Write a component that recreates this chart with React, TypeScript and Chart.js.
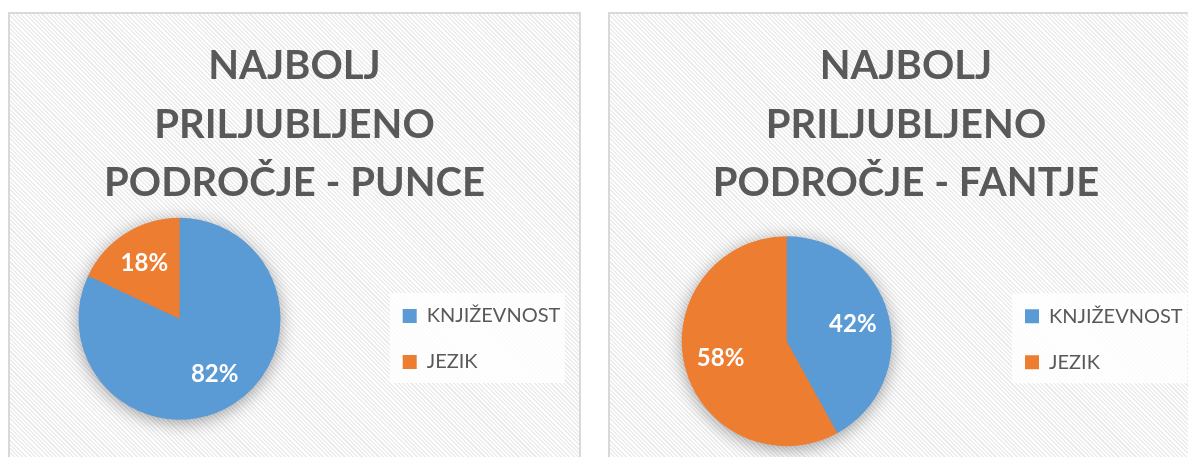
import React, { useEffect, useRef } from 'react';
import { Chart, registerables } from 'chart.js';

Chart.register(...registerables);

// ---- data ----
const categories = ['KNJIŽEVNOST', 'JEZIK'];
const punceValues = [82, 18];
const fantjeValues = [42, 58];
const punceTitle = ['NAJBOLJ', 'PRILJUBLJENO', 'PODROČJE - PUNCE'];
const fantjeTitle = ['NAJBOLJ', 'PRILJUBLJENO', 'PODROČJE - FANTJE'];
const seriesColors = ['#5B9BD5', '#ED7D31'];

const FONT = 'Lato, "Open Sans", sans-serif';
const TEXT = '#595959';
const LEGEND_PAD = 26;

type Layout = { cx: number; cy: number; r: number; legendX: number; legendY: number };

function makePlugin(layout: Layout) {
  return {
    id: 'placement',
    afterLayout(chart: any) {
      const { cx, cy, r, legendX, legendY } = layout;
      chart.chartArea = {
        left: cx - r,
        top: cy - r,
        right: cx + r,
        bottom: cy + r,
        width: 2 * r,
        height: 2 * r,
      };
      const lg = chart.legend;
      if (lg) {
        lg.left = legendX - LEGEND_PAD;
        lg.top = legendY - 3 - LEGEND_PAD;
        lg.width = 260;
        lg.height = 200;
        lg.right = lg.left + lg.width;
        lg.bottom = lg.top + lg.height;
      }
    },
    beforeDraw(chart: any) {
      const ctx = chart.ctx;
      ctx.save();
      ctx.fillStyle = 'rgba(255,255,255,0.82)';
      ctx.fillRect(layout.legendX - 13, layout.legendY - 16, 175, 90);
      ctx.restore();
    },
    beforeDatasetsDraw(chart: any) {
      const ctx = chart.ctx;
      const arc = chart.getDatasetMeta(0).data[0];
      if (!arc) return;
      const { x, y, outerRadius } = arc.getProps(['x', 'y', 'outerRadius'], true);
      ctx.save();
      ctx.shadowColor = 'rgba(0,0,0,0.4)';
      ctx.shadowBlur = 18;
      ctx.shadowOffsetY = 3;
      ctx.fillStyle = '#8c8c8c';
      ctx.beginPath();
      ctx.arc(x, y, outerRadius - 1, 0, Math.PI * 2);
      ctx.fill();
      ctx.restore();
    },
    afterDatasetsDraw(chart: any) {
      const ctx = chart.ctx;
      const meta = chart.getDatasetMeta(0);
      const data = chart.data.datasets[0].data as number[];
      ctx.save();
      ctx.fillStyle = '#ffffff';
      ctx.font = `bold 24px ${FONT}`;
      ctx.textAlign = 'center';
      ctx.textBaseline = 'middle';
      meta.data.forEach((el: any, i: number) => {
        const { x, y, startAngle, endAngle, outerRadius } = el.getProps(
          ['x', 'y', 'startAngle', 'endAngle', 'outerRadius'],
          true
        );
        const mid = (startAngle + endAngle) / 2;
        const rr = outerRadius * 0.65;
        ctx.fillText(`${data[i]}%`, x + Math.cos(mid) * rr, y + Math.sin(mid) * rr);
      });
      ctx.restore();
    },
  };
}

function PieCanvas(props: { title: string[]; values: number[]; width: number; height: number; layout: Layout }) {
  const ref = useRef<HTMLCanvasElement>(null);
  useEffect(() => {
    if (!ref.current) return;
    const chart = new Chart(ref.current, {
      type: 'pie',
      data: {
        labels: categories,
        datasets: [
          {
            data: props.values,
            backgroundColor: seriesColors,
            borderWidth: 0,
            radius: props.layout.r,
            clip: false as any,
          } as any,
        ],
      },
      options: {
        animation: false,
        responsive: false,
        events: [],
        layout: { padding: 0 },
        plugins: {
          title: {
            display: true,
            text: props.title,
            color: TEXT,
            font: { family: FONT, size: 40, weight: 'bold', lineHeight: 58.5 / 40 },
            padding: { top: 23, bottom: 0 },
          },
          legend: {
            position: 'right',
            align: 'start',
            labels: {
              boxWidth: 14,
              boxHeight: 14,
              padding: LEGEND_PAD,
              color: TEXT,
              font: { family: FONT, size: 20 },
            },
          },
          tooltip: { enabled: false },
        },
      } as any,
      plugins: [makePlugin(props.layout)],
    });
    return () => chart.destroy();
  }, []);
  return <canvas ref={ref} width={props.width} height={props.height} style={{ display: 'block' }} />;
}

const panelBase: React.CSSProperties = {
  position: 'absolute',
  top: 4,
  height: 480,
  boxSizing: 'border-box',
  border: '2px solid #d9d9d9',
  overflow: 'hidden',
  background:
    'repeating-linear-gradient(45deg, #ffffff 0px, #ffffff 1.5px, #ececec 1.5px, #ececec 3px)',
};

export default function App() {
  return (
    <div style={{ position: 'relative', width: 1188, height: 449, overflow: 'hidden' }}>
      <div style={{ ...panelBase, left: 0, width: 573 }}>
        <PieCanvas
          title={punceTitle}
          values={punceValues}
          width={569}
          height={460}
          layout={{ cx: 169.5, cy: 304.7, r: 101, legendX: 392.7, legendY: 295 }}
        />
      </div>
      <div style={{ ...panelBase, left: 600, width: 596 }}>
        <PieCanvas
          title={fantjeTitle}
          values={fantjeValues}
          width={592}
          height={460}
          layout={{ cx: 176.7, cy: 327.2, r: 105, legendX: 415, legendY: 295.3 }}
        />
      </div>
    </div>
  );
}
